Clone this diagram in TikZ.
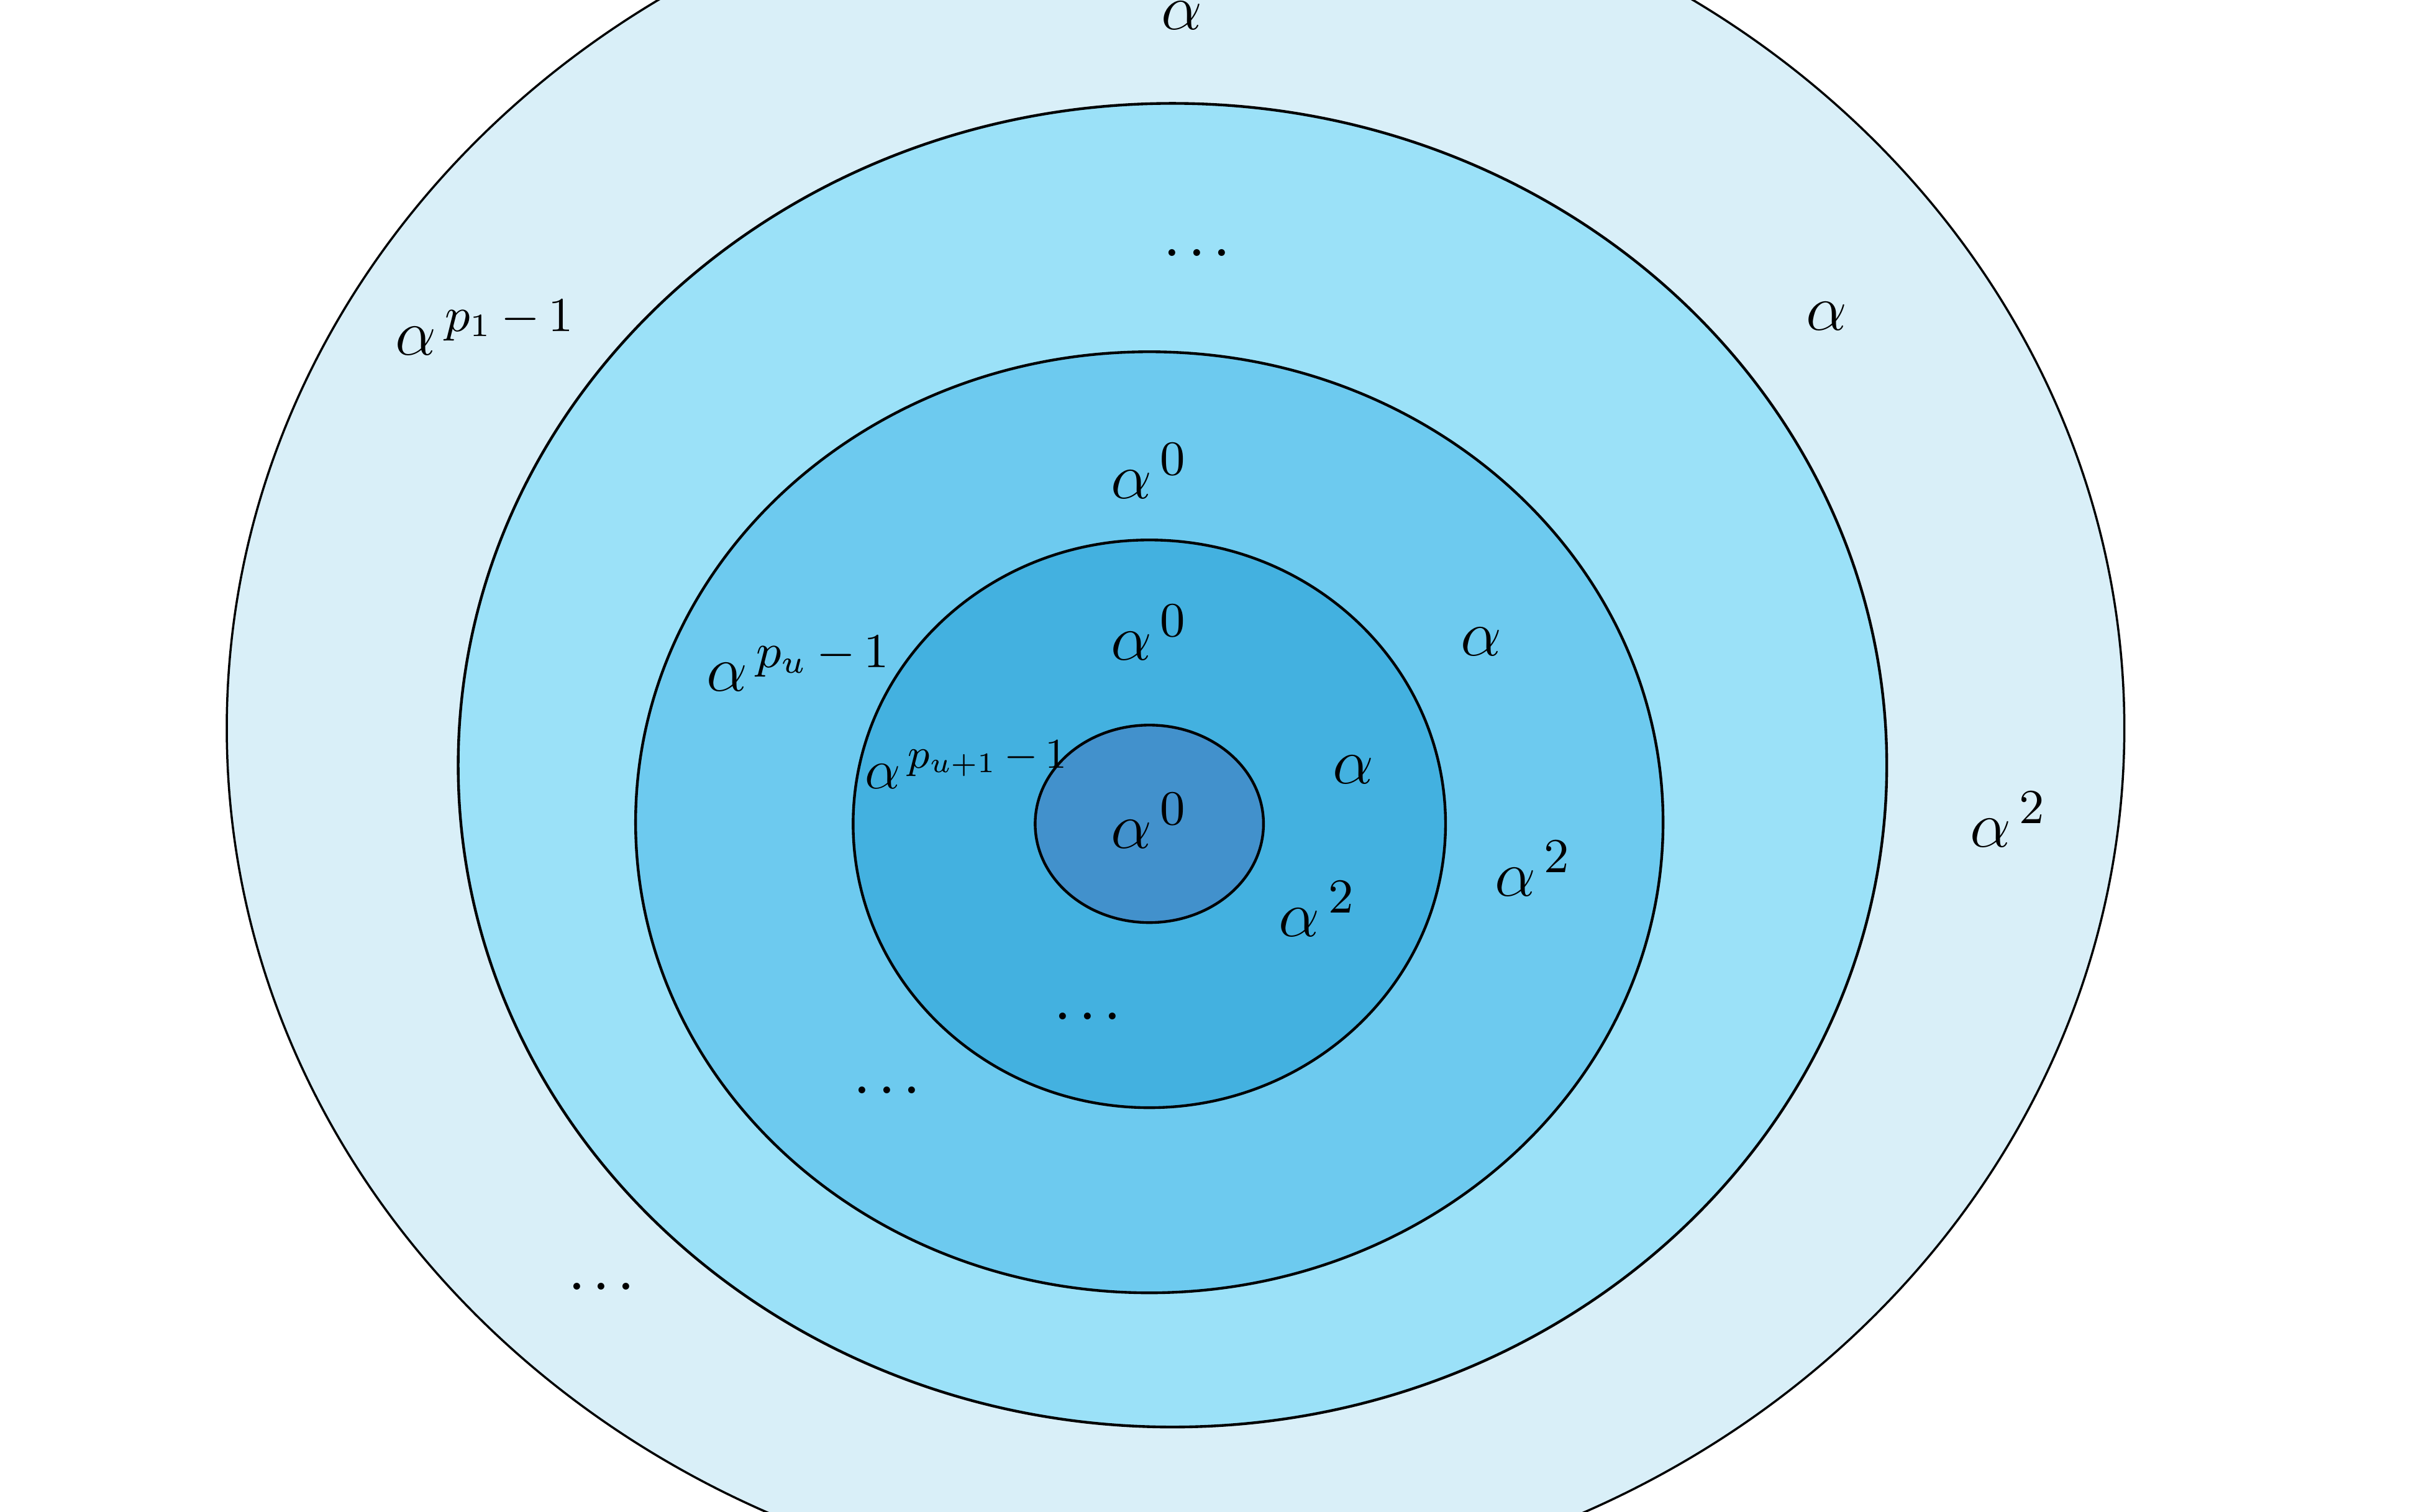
\documentclass[tikz,border=0pt]{standalone}
\usepackage{amsmath}
\usepackage{amssymb}
\usepackage{xcolor}
\definecolor{ringA}{HTML}{D9EFF8}
\definecolor{ringB}{HTML}{9BE1F8}
\definecolor{ringC}{HTML}{6DCAEF}
\definecolor{ringD}{HTML}{43B1E0}
\definecolor{ringE}{HTML}{4291CC}
\newcommand{\ringdots}{.\kern0.08em.\kern0.08em.}

\begin{document}
\begin{tikzpicture}[
	ring/.style = {draw=black, line width=0.5pt},
	lbl/.style = {inner sep=0pt, anchor=base, font=\fontsize{13}{15}\selectfont}
	]
	\useasboundingbox (-7.45,-4.46) rectangle (8.23,5.34);
	\clip (-7.45,-4.46) rectangle (8.23,5.34);
	\fill [white] (-7.45,-4.46) rectangle (8.23,5.34);
	\filldraw [ring, fill=ringA, line width=0.4pt] (0.17,0.62) ellipse [x radius=6.15, y radius=5.63];
	\filldraw [ring, fill=ringB] (0.15,0.38) ellipse [x radius=4.63, y radius=4.29];
	\filldraw [ring, fill=ringC] (0,0.01) ellipse [x radius=3.33, y radius=3.05];
	\filldraw [ring, fill=ringD] (0,0) ellipse [x radius=1.92, y radius=1.84];
	\filldraw [ring, fill=ringE] (0,0) ellipse [x radius=0.74, y radius=0.64];
	% outer ring
	\node [lbl] (a1top) at (0.21,5.15) {$\alpha$};
	\node [lbl] (a1right) at (4.39,3.20) {$\alpha$};
	\node [lbl] (a1sq) at (5.57,-0.15) {$\alpha^{\,2}$};
	\node [lbl] (a1last) at (-4.30,3.04) {$\alpha^{\,p_1\,-\,1}$};
	\node [lbl] (a1dots) at (-3.55,-3.02) {\ringdots};
	% second ring
	\node [lbl] (a2dots) at (0.31,3.68) {\ringdots};
	% third ring
	\node [lbl] (auzero) at (0,2.11) {$\alpha^{\,0}$};
	\node [lbl] (auone) at (2.15,1.09) {$\alpha$};
	\node [lbl] (ausq) at (2.49,-0.47) {$\alpha^{\,2}$};
	\node [lbl] (aulast) at (-2.27,0.86) {$\alpha^{\,p_u\,-\,1}$};
	\node [lbl] (audots) at (-1.70,-1.75) {\ringdots};
	% fourth ring
	\node [lbl] (avzero) at (0,1.06) {$\alpha^{\,0}$};
	\node [lbl] (avone) at (1.32,0.26) {$\alpha$};
	\node [lbl] (avsq) at (1.09,-0.73) {$\alpha^{\,2}$};
	\node [lbl, scale=0.87] (avlast) at (-1.18,0.23) {$\alpha^{\,p_{u+1}\,-\,1}$};
	\node [lbl] (avdots) at (-0.40,-1.27) {\ringdots};
	% core
	\node [lbl] (core) at (0,-0.16) {$\alpha^{\,0}$};
\end{tikzpicture}
\end{document}
